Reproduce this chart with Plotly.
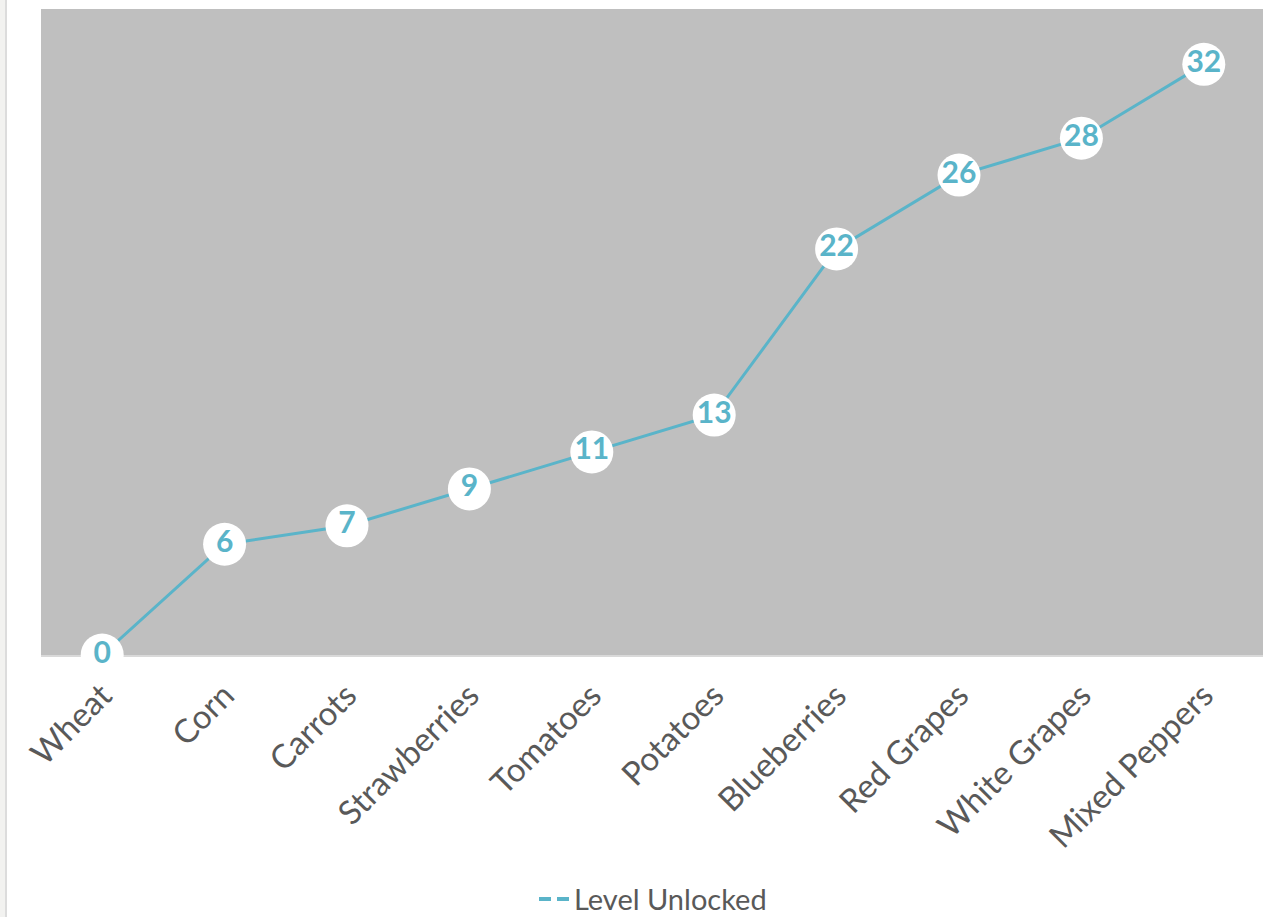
import plotly.graph_objects as go

categories = ["Wheat", "Corn", "Carrots", "Strawberries", "Tomatoes", "Potatoes",
              "Blueberries", "Red Grapes", "White Grapes", "Mixed Peppers"]
levels = [0, 6, 7, 9, 11, 13, 22, 26, 28, 32]
series_name = "Level Unlocked"

teal = "#5ab4c9"
fig = go.Figure()
fig.add_trace(go.Scatter(
    x=categories, y=levels, mode="lines+markers+text",
    line=dict(color=teal, width=3),
    marker=dict(size=43, color="white", line=dict(width=0)),
    text=[str(v) for v in levels], textposition="middle center",
    textfont=dict(family="Lato", size=30, color=teal, weight="bold"),
    cliponaxis=False, showlegend=False, hoverinfo="skip"))
fig.add_trace(go.Scatter(
    x=[None], y=[None], mode="lines", name=series_name,
    line=dict(color=teal, width=4, dash="12px,6px"), showlegend=True))

fig.update_layout(
    width=1265, height=917,
    margin=dict(l=41, r=0, t=9, b=262, autoexpand=False),
    paper_bgcolor="rgba(0,0,0,0)", plot_bgcolor="#bfbfbf",
    font=dict(family="Lato", color="#595959"),
    xaxis=dict(type="category", range=[-0.5, 9.5], showgrid=False, zeroline=False,
               tickangle=-45, tickfont=dict(size=33, color="#595959"),
               showline=True, linecolor="#d9d9d9", linewidth=2,
               ticks="outside", ticklen=6, tickcolor="rgba(0,0,0,0)",
               layer="below traces", automargin=False),
    yaxis=dict(range=[0, 35], showgrid=False, zeroline=False, showticklabels=False,
               ticks="", automargin=False),
    legend=dict(orientation="h", x=0.5, xanchor="center", y=-0.378, yanchor="middle",
                font=dict(size=29, color="#595959"), bgcolor="rgba(0,0,0,0)"),
)
fig.write_html(
    "out.html",
    config={"displayModeBar": False},
    post_script=(
        "document.documentElement.style.overflow='hidden';"
        "document.body.style.overflow='hidden';"
        "document.body.style.margin='0';"
        "document.body.style.background='linear-gradient(to right,#f2f2f0 0px,#f2f2f0 5px,"
        "#dcdcdc 5px,#dcdcdc 7px,#ffffff 7px)';"
    ),
)
